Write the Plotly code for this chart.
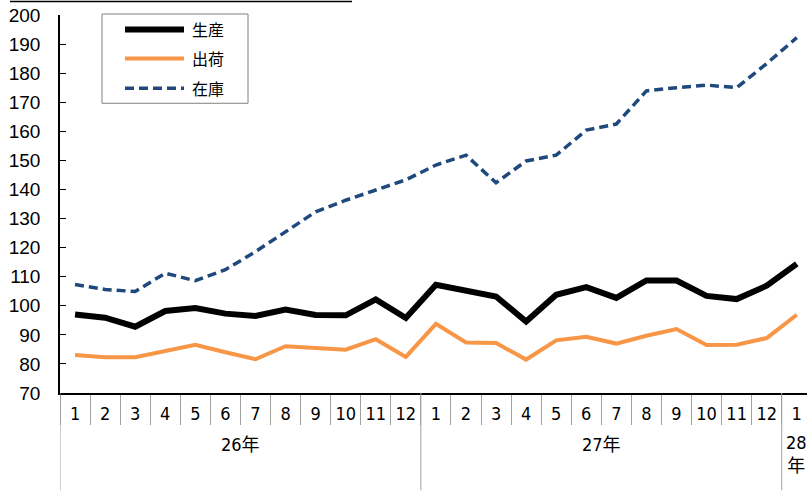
import plotly.graph_objects as go

# ---- data ----
year_labels = ["26年"] * 12 + ["27年"] * 12 + ["28年"]
month_labels = ["1", "2", "3", "4", "5", "6", "7", "8", "9", "10", "11", "12",
                "1", "2", "3", "4", "5", "6", "7", "8", "9", "10", "11", "12",
                "1"]
production = [97.0, 95.9, 92.8, 98.2, 99.2, 97.3, 96.5, 98.7, 96.8, 96.7, 102.2, 95.8,
              107.2, 105.3, 103.2, 94.6, 103.8, 106.4, 102.7, 108.7, 108.7, 103.4, 102.3, 106.9,
              114.4]
shipments = [83.1, 82.3, 82.3, 84.5, 86.6, 84.0, 81.6, 86.1, 85.5, 84.9, 88.5, 82.4,
             93.8, 87.4, 87.2, 81.5, 88.1, 89.3, 87.0, 89.7, 92.0, 86.5, 86.6, 88.9,
             96.9]
inventory = [107.3, 105.6, 104.9, 111.2, 108.6, 112.4, 118.6, 125.5, 132.3, 136.3, 139.8, 143.3,
             148.4, 151.8, 142.3, 149.8, 151.8, 160.4, 162.5, 173.9, 175.0, 175.9, 175.0, 183.3,
             192.2]
series_names = ["生産", "出荷", "在庫"]
y_ticks = [70, 80, 90, 100, 110, 120, 130, 140, 150, 160, 170, 180, 190, 200]

# unique category keys built from year + month
x_keys = [y + "-" + m for y, m in zip(year_labels, month_labels)]

# ---- layout geometry ----
W, H = 807, 491
ML, MR, MT, MB = 60, 0, 14.5, 97.5
PW, PH = W - ML - MR, H - MT - MB

def px_x(x):
    return (x - ML) / PW

def px_y(y):
    return (H - MB - y) / PH

COLORS = ["#000000", "#F79646", "#1F497D"]
WIDTHS = [6, 4, 3.5]
DASHES = ["solid", "solid", "9px,5px"]
GRID_GREY = "#a0a0a0"

fig = go.Figure()
for name, vals, c, w, d in zip(series_names, [production, shipments, inventory], COLORS, WIDTHS, DASHES):
    fig.add_trace(go.Scatter(x=x_keys, y=vals, mode="lines", name=name,
                             line=dict(color=c, width=w, dash=d), showlegend=False))

FONT_CJK = "Noto Sans CJK JP"
AX_FONT = "Liberation Sans Narrow, DejaVu Sans Condensed, Liberation Sans, Noto Sans CJK JP"

fig.update_layout(
    width=W, height=H,
    margin=dict(l=ML, r=MR, t=MT, b=MB, pad=0, autoexpand=False),
    paper_bgcolor="white", plot_bgcolor="white",
    xaxis=dict(
        type="category",
        categoryorder="array", categoryarray=x_keys,
        tickvals=x_keys, ticktext=month_labels,
        range=[-0.5, 24.34],
        automargin=False,
        tickangle=0,
        showline=True, linecolor="black", linewidth=1.5,
        ticks="outside", tickson="boundaries", ticklen=30, tickcolor=GRID_GREY, tickwidth=1,
        ticklabelstandoff=4,
        tickfont=dict(family=AX_FONT, size=18, color="black"),
        showgrid=False, zeroline=False,
    ),
    yaxis=dict(
        range=[70, 200], tickvals=y_ticks,
        automargin=False,
        showline=True, linecolor="black", linewidth=1.5,
        ticks="inside", ticklen=6, tickcolor="black",
        ticklabelstandoff=14,
        tickfont=dict(family="Liberation Sans, Arial, sans-serif", size=19, color="black"),
        showgrid=False, zeroline=False,
    ),
)

shapes = []
annotations = []

# year groups: dividers + labels
groups = []
for i, y in enumerate(year_labels):
    if not groups or groups[-1][0] != y:
        groups.append([y, i, i])
    else:
        groups[-1][2] = i
for y, i0, i1 in groups:
    shapes.append(dict(type="line", xref="x", yref="paper", x0=i0 - 0.5, x1=i0 - 0.5,
                       y0=px_y(393.5), y1=px_y(491), line=dict(color=GRID_GREY, width=1)))
    center = (i0 + i1) / 2
    if i1 == i0:
        annotations.append(dict(xref="x", yref="paper", x=center, y=px_y(431),
                                text=y[:-1] + "<br>" + y[-1], showarrow=False,
                                xanchor="center", yanchor="top",
                                font=dict(family=AX_FONT, size=18, color="black")))
    else:
        annotations.append(dict(xref="x", yref="paper", x=center, y=px_y(445),
                                text=y, showarrow=False, xanchor="center", yanchor="middle",
                                font=dict(family=AX_FONT, size=18, color="black")))

# manual legend box
shapes += [
    dict(type="rect", xref="paper", yref="paper",
         x0=px_x(102), x1=px_x(248), y0=px_y(103), y1=px_y(13.5),
         line=dict(color="#808080", width=1), fillcolor="white", layer="above"),
    dict(type="line", xref="paper", yref="paper",
         x0=px_x(10), x1=px_x(352), y0=px_y(1), y1=px_y(1),
         line=dict(color="black", width=1.5)),
]
leg_y = [29, 58, 88]
for name, c, w, d, yy in zip(series_names, COLORS, WIDTHS, DASHES, leg_y):
    shapes.append(dict(type="line", xref="paper", yref="paper",
                       x0=px_x(125), x1=px_x(184), y0=px_y(yy), y1=px_y(yy),
                       line=dict(color=c, width=w, dash=d), layer="above"))
    annotations.append(dict(xref="paper", yref="paper", x=px_x(190), y=px_y(yy),
                            text=name, showarrow=False, xanchor="left", yanchor="middle",
                            font=dict(family=FONT_CJK, size=16, color="black")))
fig.update_layout(shapes=shapes, annotations=annotations)

fig.write_html("out.html", config={"displayModeBar": False},
               post_script="document.body.style.margin='0';")
